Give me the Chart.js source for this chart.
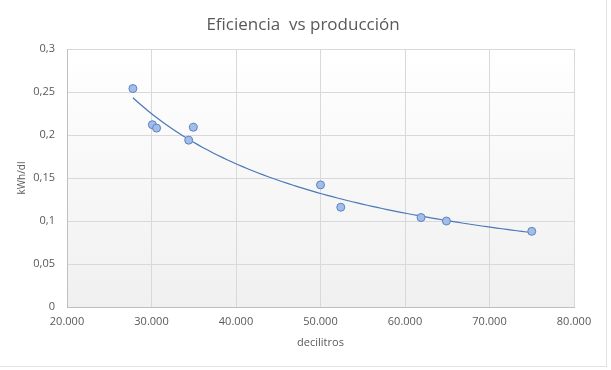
<!DOCTYPE html>
<html>
<head>
<meta charset="utf-8">
<script src="https://cdn.jsdelivr.net/npm/chart.js@4.4.1/dist/chart.umd.min.js"></script>
<style>
  html, body { margin: 0; padding: 0; background: #fff; }
  #wrap { position: relative; width: 611px; height: 370px; }
  #frame { position: absolute; left: 0; top: 0; width: 606px; height: 366px;
           border-right: 1px solid #e2e2e2; border-bottom: 1px solid #e2e2e2; pointer-events: none; }
</style>
</head>
<body>
<div id="wrap">
  <canvas id="chart" width="611" height="370"></canvas>
  <div id="frame"></div>
</div>
<script>
// values
const produccion = [27800, 30100, 30600, 34400, 34950, 50000, 52400, 61900, 64900, 75000];
const eficiencia = [0.254, 0.212, 0.208, 0.194, 0.209, 0.142, 0.116, 0.104, 0.100, 0.088];

const chartTitle = "Eficiencia  vs producción";
const xTitle = "decilitros";
const yTitle = "kWh/dl";

// power trend line (least squares on logs), like Excel's "Potencial"
function powerTrend(xs, ys, steps) {
    const lx = xs.map(Math.log), ly = ys.map(Math.log);
    const n = xs.length;
    const mx = lx.reduce((a, b) => a + b, 0) / n;
    const my = ly.reduce((a, b) => a + b, 0) / n;
    let sxy = 0, sxx = 0;
    for (let i = 0; i < n; i++) {
        sxy += (lx[i] - mx) * (ly[i] - my);
        sxx += (lx[i] - mx) * (lx[i] - mx);
    }
    const b = sxy / sxx;
    const a = Math.exp(my - b * mx);
    const x0 = Math.min(...xs), x1 = Math.max(...xs);
    const pts = [];
    for (let i = 0; i <= steps; i++) {
        const x = x0 + (x1 - x0) * i / steps;
        pts.push({ x: x, y: a * Math.pow(x, b) });
    }
    return pts;
}

const points = produccion.map((x, i) => ({ x: x, y: eficiencia[i] }));
const trend = powerTrend(produccion, eficiencia, 80);

// plot background + title (title centred on the whole frame, like the original)
const plotBg = {
    id: "plotBg",
    beforeDraw(chart) {
        const { ctx, chartArea: a } = chart;
        const g = ctx.createLinearGradient(0, a.top, 0, a.bottom);
        g.addColorStop(0, "#ffffff");
        g.addColorStop(1, "#f0f0f0");
        ctx.save();
        ctx.fillStyle = g;
        ctx.fillRect(a.left, a.top, a.right - a.left, a.bottom - a.top);
        ctx.fillStyle = "#595959";
        ctx.font = "17px 'Open Sans', sans-serif";
        ctx.textAlign = "center";
        ctx.textBaseline = "alphabetic";
        ctx.fillText(chartTitle, 303, 30);
        ctx.restore();
    }
};

const tickFont = { family: "'Open Sans', sans-serif", size: 11 };

new Chart(document.getElementById("chart").getContext("2d"), {
    type: "scatter",
    data: {
        datasets: [{
            label: "trend",
            data: trend,
            showLine: true,
            borderColor: "#4a78b8",
            borderWidth: 1.2,
            pointRadius: 0,
            tension: 0,
            order: 2
        }, {
            label: "datos",
            data: points,
            pointRadius: 4,
            backgroundColor: "#a3bde8",
            borderColor: "#5b84c3",
            borderWidth: 1,
            order: 1
        }]
    },
    options: {
        responsive: false,
        animation: false,
        layout: { padding: { left: 16, right: 37, top: 49, bottom: 21 } },
        plugins: {
            legend: { display: false },
            tooltip: { enabled: false },
            title: { display: false }
        },
        scales: {
            x: {
                type: "linear",
                min: 20000,
                max: 80000,
                ticks: {
                    stepSize: 10000,
                    color: "#595959",
                    font: tickFont,
                    padding: 8,
                    maxRotation: 0,
                    callback: v => String(v).replace(/\B(?=(\d{3})+(?!\d))/g, ".")
                },
                grid: { color: "#d9d9d9", drawTicks: false },
                border: { color: "#bfbfbf" },
                title: {
                    display: true,
                    text: xTitle,
                    color: "#595959",
                    font: tickFont,
                    padding: { top: 2, bottom: 0 }
                },
                afterFit: s => { s.height = 42; }
            },
            y: {
                min: 0,
                max: 0.3,
                ticks: {
                    stepSize: 0.05,
                    color: "#595959",
                    font: tickFont,
                    padding: 12,
                    callback: v => String(Math.round(v * 100) / 100).replace(".", ",")
                },
                grid: { color: "#d9d9d9", drawTicks: false },
                border: { color: "#bfbfbf" },
                title: {
                    display: true,
                    text: yTitle,
                    color: "#595959",
                    font: { family: "'Open Sans', sans-serif", size: 10 },
                    padding: { top: 0, bottom: 0 }
                },
                afterFit: s => { s.width = 51; }
            }
        }
    },
    plugins: [plotBg]
});
</script>
</body>
</html>
